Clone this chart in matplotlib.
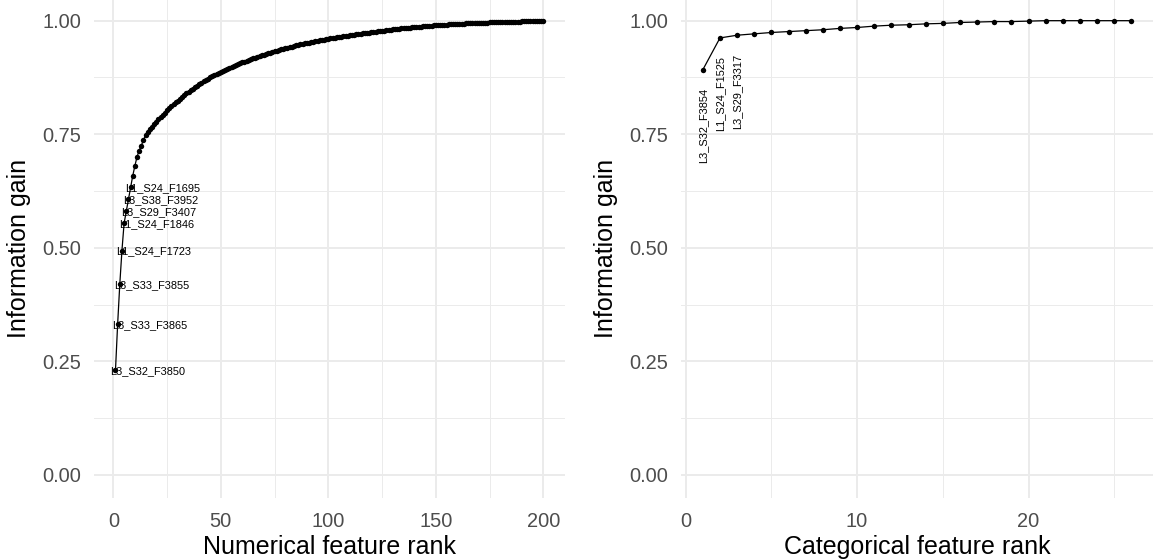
import matplotlib
matplotlib.use("Agg")
import matplotlib.pyplot as plt
import numpy as np

plt.rcParams['font.family'] = ['Liberation Sans', 'DejaVu Sans']

# ---------------- data ----------------
num_gain = [
    0.2310, 0.3320, 0.4200, 0.4940, 0.5540, 0.5800, 0.6070, 0.6330, 0.6580, 0.6800,
    0.7000, 0.7140, 0.7250, 0.7370, 0.7480, 0.7544, 0.7605, 0.7664, 0.7721, 0.7776,
    0.7829, 0.7880, 0.7930, 0.7978, 0.8025, 0.8070, 0.8114, 0.8157, 0.8199, 0.8240,
    0.8280, 0.8320, 0.8359, 0.8397, 0.8434, 0.8470, 0.8505, 0.8539, 0.8572, 0.8604,
    0.8635, 0.8665, 0.8694, 0.8723, 0.8751, 0.8778, 0.8804, 0.8829, 0.8853, 0.8876,
    0.8898, 0.8920, 0.8941, 0.8962, 0.8983, 0.9003, 0.9023, 0.9043, 0.9062, 0.9081,
    0.9100, 0.9118, 0.9136, 0.9154, 0.9171, 0.9188, 0.9205, 0.9221, 0.9237, 0.9253,
    0.9268, 0.9283, 0.9298, 0.9312, 0.9326, 0.9340, 0.9354, 0.9367, 0.9380, 0.9393,
    0.9406, 0.9418, 0.9430, 0.9442, 0.9454, 0.9465, 0.9476, 0.9487, 0.9498, 0.9508,
    0.9518, 0.9528, 0.9538, 0.9548, 0.9557, 0.9566, 0.9575, 0.9584, 0.9592, 0.9600,
    0.9608, 0.9616, 0.9624, 0.9632, 0.9639, 0.9647, 0.9654, 0.9662, 0.9669, 0.9676,
    0.9683, 0.9690, 0.9697, 0.9704, 0.9711, 0.9718, 0.9725, 0.9732, 0.9738, 0.9745,
    0.9752, 0.9758, 0.9765, 0.9771, 0.9777, 0.9783, 0.9789, 0.9795, 0.9801, 0.9807,
    0.9813, 0.9818, 0.9824, 0.9829, 0.9834, 0.9839, 0.9844, 0.9849, 0.9854, 0.9858,
    0.9863, 0.9867, 0.9871, 0.9875, 0.9879, 0.9883, 0.9887, 0.9891, 0.9894, 0.9898,
    0.9901, 0.9905, 0.9908, 0.9911, 0.9914, 0.9917, 0.9920, 0.9923, 0.9926, 0.9929,
    0.9931, 0.9934, 0.9936, 0.9939, 0.9941, 0.9943, 0.9945, 0.9947, 0.9949, 0.9951,
    0.9953, 0.9955, 0.9957, 0.9958, 0.9960, 0.9962, 0.9963, 0.9965, 0.9967, 0.9968,
    0.9970, 0.9971, 0.9973, 0.9974, 0.9976, 0.9977, 0.9978, 0.9980, 0.9981, 0.9982,
    0.9984, 0.9985, 0.9986, 0.9988, 0.9989, 0.9991, 0.9993, 0.9995, 0.9997, 1.0000,
]
num_labels = ["L3_S32_F3850", "L3_S33_F3865", "L3_S33_F3855", "L1_S24_F1723",
              "L1_S24_F1846", "L3_S29_F3407", "L3_S38_F3952", "L1_S24_F1695"]

cat_gain = [0.892, 0.962, 0.968, 0.971, 0.974, 0.976, 0.978, 0.980, 0.983,
            0.985, 0.988, 0.990, 0.991, 0.993, 0.994, 0.996, 0.997, 0.998,
            0.998, 0.999, 1.000, 1.000, 1.000, 1.000, 1.000, 1.000]
cat_labels = ["L3_S32_F3854", "L1_S24_F1525", "L3_S29_F3317"]

x_ticks_num = [0, 50, 100, 150, 200]
x_ticks_cat = [0, 10, 20]
y_ticks = [0.00, 0.25, 0.50, 0.75, 1.00]
y_tick_labels = ["0.00", "0.25", "0.50", "0.75", "1.00"]

# ---------------- figure ----------------
W, H = 1155, 559
fig = plt.figure(figsize=(W / 100, H / 100), dpi=100)

grid_col = "#EBEBEB"
tick_col = "#4D4D4D"

def style(ax, xmaj, xmin, xlabel):
    ax.set_yticks(y_ticks)
    ax.set_yticklabels(y_tick_labels)
    ax.set_yticks([0.125, 0.375, 0.625, 0.875], minor=True)
    ax.set_xticks(xmaj)
    ax.set_xticks(xmin, minor=True)
    ax.grid(True, which="major", color=grid_col, linewidth=1.4)
    ax.grid(True, which="minor", color=grid_col, linewidth=0.7)
    ax.set_axisbelow(True)
    for s in ax.spines.values():
        s.set_visible(False)
    ax.tick_params(which="both", length=0)
    ax.tick_params(axis="y", labelsize=14.4, labelcolor=tick_col, pad=9.5)
    ax.tick_params(axis="x", labelsize=14.4, labelcolor=tick_col, pad=10)
    ax.set_xlabel(xlabel, fontsize=18, color="black", labelpad=3)
    ax.set_ylabel("Information gain", fontsize=18, color="black", labelpad=8)

ylo, yhi = -0.05, 1.0455
bottom = (H - 497.7) / H
top = 1.0

# left panel
x0, x1 = 94.1, 564.7
axL = fig.add_axes([x0 / W, bottom, (x1 - x0) / W, top - bottom])
rank_num = np.arange(1, len(num_gain) + 1)
axL.plot(rank_num, num_gain, color="black", linewidth=0.9, marker="o",
         markersize=3.9, markeredgewidth=0, zorder=3)
for i, lab in enumerate(num_labels):
    axL.text(rank_num[i] - 2.5, num_gain[i], lab, fontsize=7.9,
             ha="left", va="center_baseline", color="black", zorder=4)
axL.set_xlim(-8.95, 209.95)
axL.set_ylim(ylo, yhi)
style(axL, x_ticks_num, [25, 75, 125, 175], "Numerical feature rank")

# right panel
x0, x1 = 681.4, 1152.8
axR = fig.add_axes([x0 / W, bottom, (x1 - x0) / W, top - bottom])
rank_cat = np.arange(1, len(cat_gain) + 1)
axR.plot(rank_cat, cat_gain, color="black", linewidth=0.9, marker="o",
         markersize=3.9, markeredgewidth=0, zorder=3)
for i, lab in enumerate(cat_labels):
    axR.text(rank_cat[i], cat_gain[i] - 0.04, lab, fontsize=7.9, rotation=90,
             ha="center", va="top", color="black", zorder=4)
axR.set_xlim(-0.25, 27.25)
axR.set_ylim(ylo, yhi)
style(axR, x_ticks_cat, [5, 15, 25], "Categorical feature rank")

fig.savefig("out.png", dpi=100)
